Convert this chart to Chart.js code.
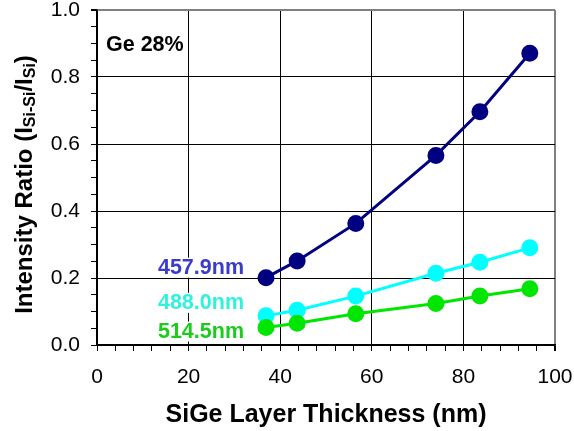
<!DOCTYPE html>
<html>
<head>
<meta charset="utf-8">
<script src="https://cdn.jsdelivr.net/npm/chart.js@4"></script>
<style>
  html, body { margin: 0; padding: 0; background: #fff; }
  #wrap { width: 574px; height: 431px; }
</style>
</head>
<body>
<div id="wrap"><canvas id="chart"></canvas></div>
<script>
// SiGe layer thickness (nm)
const thickness = [36.9, 43.7, 56.5, 74.0, 83.6, 94.5];
// intensity ratio I(Si-Si)/I(Si) per laser line
const ratio4579 = [0.201, 0.251, 0.363, 0.566, 0.696, 0.871];
const ratio4880 = [0.087, 0.104, 0.146, 0.214, 0.247, 0.290];
const ratio5145 = [0.052, 0.065, 0.093, 0.124, 0.146, 0.168];
const seriesNames = ['457.9nm', '488.0nm', '514.5nm'];
const xTicks = [0, 20, 40, 60, 80, 100];
const yTicks = [0.0, 0.2, 0.4, 0.6, 0.8, 1.0];
const sampleNote = 'Ge 28%';

const FONT = '"Liberation Sans", Arial, Helvetica, sans-serif';

function puntos(ys) {
    return thickness.map((x, i) => ({ x: x, y: ys[i] }));
}
function esMayor(v, lista) {
    return lista.some(t => Math.abs(t - v) < 1e-6);
}

// series label + colors
const series = [
    { nombre: seriesNames[0], data: ratio4579, color: '#000080', texto: '#3b3bcc', dy: -10 },
    { nombre: seriesNames[1], data: ratio4880, color: '#00ffff', texto: '#2ef2dc', dy: -13 },
    { nombre: seriesNames[2], data: ratio5145, color: '#00e600', texto: '#1ccc1c', dy: 4 }
];

const etiquetasPlugin = {
    id: 'etiquetas',
    afterDatasetsDraw(chart) {
        const ctx = chart.ctx;
        ctx.save();
        // series labels, with white box over the grid
        ctx.font = 'bold 21.5px ' + FONT;
        ctx.textAlign = 'right';
        ctx.textBaseline = 'middle';
        chart.data.datasets.forEach((ds, i) => {
            const meta = chart.getDatasetMeta(i);
            const p = meta.data[0];
            const x = p.x - 22;
            const y = p.y + ds.dy;
            const w = ctx.measureText(ds.nombre).width;
            ctx.fillStyle = '#fff';
            ctx.fillRect(x - w - 2, y - 10, w + 4, 20);
            ctx.fillStyle = ds.texto;
            ctx.fillText(ds.nombre, x, y);
        });
        // sample note
        ctx.textAlign = 'left';
        ctx.fillStyle = '#000';
        ctx.fillText(sampleNote, chart.chartArea.left + 9, chart.chartArea.top + 35);
        ctx.restore();
    },
    afterDraw(chart) {
        // y axis title with subscripts
        const ctx = chart.ctx;
        const partes = [
            { t: 'Intensity Ratio (I', sub: false },
            { t: 'Si-Si', sub: true },
            { t: '/I', sub: false },
            { t: 'Si', sub: true },
            { t: ')', sub: false }
        ];
        const fNormal = 'bold 24px ' + FONT;
        const fSub = 'bold 16px ' + FONT;
        ctx.save();
        let total = 0;
        partes.forEach(p => {
            ctx.font = p.sub ? fSub : fNormal;
            p.w = ctx.measureText(p.t).width;
            total += p.w;
        });
        const cy = (chart.chartArea.top + chart.chartArea.bottom) / 2 + 7;
        ctx.translate(25, cy);
        ctx.rotate(-Math.PI / 2);
        ctx.fillStyle = '#000';
        ctx.textBaseline = 'middle';
        ctx.textAlign = 'left';
        let x = -total / 2;
        partes.forEach(p => {
            ctx.font = p.sub ? fSub : fNormal;
            ctx.fillText(p.t, x, p.sub ? 6 : 0);
            x += p.w;
        });
        ctx.restore();
    }
};

// green drawn last (on top), so it goes first
const datasets = series.slice().reverse().map(s => ({
    label: s.nombre,
    nombre: s.nombre,
    texto: s.texto,
    dy: s.dy,
    data: puntos(s.data),
    showLine: true,
    borderColor: s.color,
    backgroundColor: s.color,
    pointBackgroundColor: s.color,
    pointBorderColor: s.color,
    borderWidth: 3,
    pointRadius: 7,
    tension: 0
}));

new Chart(document.getElementById('chart'), {
    type: 'scatter',
    data: { datasets: datasets },
    options: {
        responsive: true,
        maintainAspectRatio: false,
        animation: false,
        layout: { padding: { top: 10, right: 19, left: 0, bottom: 0 } },
        plugins: {
            legend: { display: false },
            tooltip: { enabled: false }
        },
        scales: {
            x: {
                type: 'linear',
                min: 0,
                max: 100,
                afterFit: s => { s.height = 86; s.paddingLeft = 0; s.paddingRight = 0; },
                ticks: {
                    stepSize: 4,
                    autoSkip: false,
                    maxRotation: 0,
                    padding: 14,
                    color: '#000',
                    font: { family: FONT, size: 21 },
                    callback: v => esMayor(v, xTicks) ? String(v) : ''
                },
                grid: {
                    color: c => c.tick && esMayor(c.tick.value, xTicks) ? (c.tick.value === 100 ? '#808080' : '#000') : 'rgba(0,0,0,0)',
                    lineWidth: c => c.tick && c.tick.value === 100 ? 2 : 1,
                    tickColor: '#000',
                    tickLength: 6,
                    drawTicks: true
                },
                border: { color: '#000', width: 1.5 },
                title: {
                    display: true,
                    text: 'SiGe Layer Thickness (nm)',
                    color: '#000',
                    font: { family: FONT, size: 25, weight: 'bold' },
                    padding: { top: 0, bottom: 1 }
                }
            },
            y: {
                type: 'linear',
                min: 0,
                max: 1,
                afterFit: s => { s.width = 97; s.paddingTop = 0; s.paddingBottom = 0; },
                ticks: {
                    stepSize: 0.05,
                    autoSkip: false,
                    padding: 11,
                    color: '#000',
                    font: { family: FONT, size: 21 },
                    callback: v => esMayor(v, yTicks) ? v.toFixed(1) : ''
                },
                grid: {
                    color: c => c.tick && esMayor(c.tick.value, yTicks) ? (Math.abs(c.tick.value - 1) < 1e-6 ? '#808080' : '#000') : 'rgba(0,0,0,0)',
                    lineWidth: c => c.tick && Math.abs(c.tick.value - 1) < 1e-6 ? 2 : 1,
                    tickColor: '#000',
                    tickLength: 6,
                    drawTicks: true
                },
                border: { color: '#000', width: 1.5 }
            }
        }
    },
    plugins: [etiquetasPlugin]
});
</script>
</body>
</html>
